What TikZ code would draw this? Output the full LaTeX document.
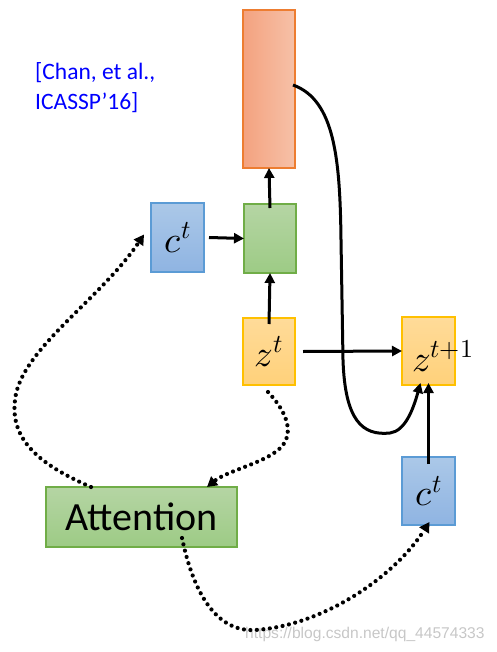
\documentclass[tikz,border=0pt]{standalone}
\usepackage{unicode-math}
\setmainfont{Carlito}
\setmathfont{Latin Modern Math}
\newfontfamily\wmfont{Liberation Sans}
\usetikzlibrary{arrows.meta}
\definecolor{oBorder}{HTML}{ED7D31}
\definecolor{oLeft}{HTML}{F4A27F}
\definecolor{oRight}{HTML}{F6C1A8}
\definecolor{gBorder}{HTML}{70AD47}
\definecolor{gTop}{HTML}{B5D5A4}
\definecolor{gBot}{HTML}{9DCB85}
\definecolor{bBorder}{HTML}{5B9BD5}
\definecolor{bTop}{HTML}{ABC8E8}
\definecolor{bBot}{HTML}{8FB4E2}
\definecolor{yBorder}{HTML}{FFC000}
\definecolor{yTop}{HTML}{FFDB99}
\definecolor{yBot}{HTML}{FFD17A}
\definecolor{citeblue}{HTML}{0000FF}
\tikzset{
  box/.style={draw, line width=1.3pt, inner sep=0pt, outer sep=0pt},
  obox/.style={box, draw=oBorder, left color=oLeft, right color=oRight},
  gbox/.style={box, draw=gBorder, top color=gTop, bottom color=gBot},
  bbox/.style={box, draw=bBorder, top color=bTop, bottom color=bBot},
  ybox/.style={box, draw=yBorder, top color=yTop, bottom color=yBot},
  mtext/.style={font=\fontsize{37}{42}\selectfont},
  solidarrow/.style={line width=3pt, -{Triangle[length=10pt,width=10pt]}},
  dotarrow/.style={line width=4.2pt, line cap=round, dash pattern=on 0pt off 6.5pt, -{Triangle[length=10pt,width=11pt]}},
}
\begin{document}
\begin{tikzpicture}[x=1pt,y=-1pt]
\useasboundingbox (0,0) rectangle (497,652);
% boxes
\node[obox, minimum width=52pt, minimum height=158pt] (out) at (269,89) {};
\node[bbox, minimum width=53pt, minimum height=69pt, mtext] (ctop) at (177.5,237.5) {$c^t$};
\node[gbox, minimum width=52pt, minimum height=69pt] (rnn) at (270,238.5) {};
\node[ybox, minimum width=52pt, minimum height=67pt, mtext] (zt) at (269,351.5) {$z^t$};
\node[ybox, minimum width=53pt, minimum height=68pt] (ztp) at (428.5,351) {};
\node[mtext, anchor=west, inner sep=0pt] (ztplabel) at (412,356) {$z^{t+1}$};
\node[bbox, minimum width=53pt, minimum height=68pt, mtext] (cbot) at (428.5,491) {$c^t$};
\node[gbox, minimum width=191pt, minimum height=60pt, font=\fontsize{40}{46}\selectfont] (att) at (141.5,517) {Attention};
% citation
\node[anchor=north west, align=left, text=citeblue, font=\fontsize{23.5}{30}\selectfont, inner sep=0pt] (cite) at (35,62) {[Chan, et al.,\\ICASSP’16]};
% watermark
\node[anchor=west, text=black!22, font=\wmfont\fontsize{15.6}{18}\selectfont, inner sep=0pt] (wm) at (245,634) {https://blog.csdn.net/qq\_44574333};
% solid arrows
\draw[solidarrow] ([yshift=-4pt]rnn.north) -- (out.south);
\draw[solidarrow] ([xshift=5pt]ctop.east) -- (rnn.west);
\draw[solidarrow] ([yshift=-6pt]zt.north) -- (rnn.south);
\draw[solidarrow] ([xshift=8pt]zt.east) -- (ztp.west);
\draw[solidarrow] ([yshift=-7pt]cbot.north) -- ([yshift=2pt]ztp.south);
\coordinate (cs) at (293,85);
\draw[solidarrow] (cs) .. controls (335,100) and (340,160) .. (341,240)
  -- (343,360) .. controls (345,420) and (362,436) .. (390,433)
  .. controls (405,431) and (413,410) .. ([xshift=-8pt,yshift=2pt]ztp.south);
% dotted arrows
\coordinate (a1) at (91,487);
\draw[dotarrow] (a1) .. controls (40,465) and (10,440) .. (15,400)
  .. controls (20,350) and (100,300) .. ([xshift=-7pt,yshift=3pt]ctop.west);
\coordinate (z1) at (268,392);
\draw[dotarrow] (z1) .. controls (285,410) and (294,430) .. (283,445)
  .. controls (270,462) and (228,470) .. (207,487);
\coordinate (a2) at (182,538);
\draw[dotarrow] (a2) .. controls (195,600) and (220,632) .. (255,630)
  .. controls (320,626) and (392,580) .. ([xshift=1pt,yshift=3pt]cbot.south);
\end{tikzpicture}
\end{document}
